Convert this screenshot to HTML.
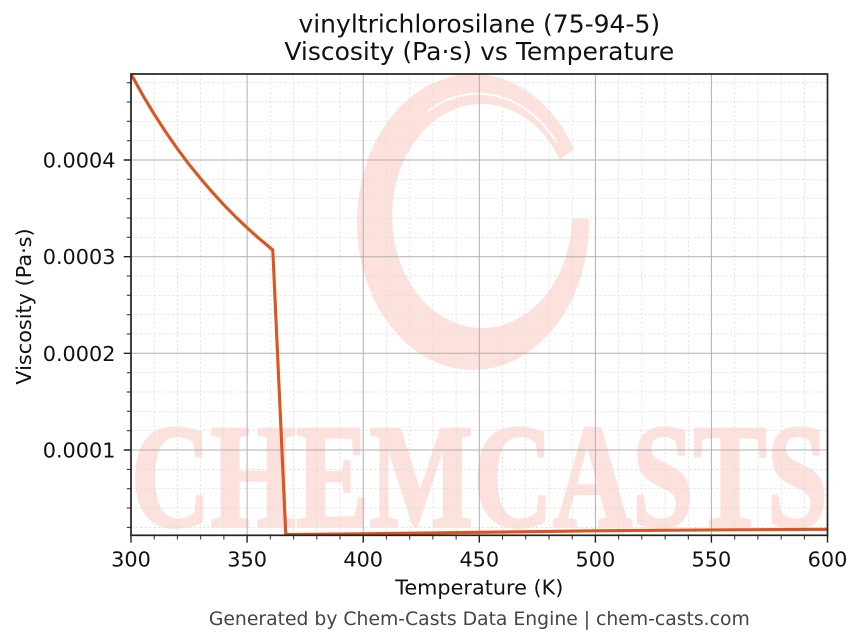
<!DOCTYPE html>
<html>
<head>
<meta charset="utf-8">
<style>
  html, body { margin: 0; padding: 0; background: #ffffff; }
  svg { display: block; }
  text { font-family: "DejaVu Sans", "Liberation Sans", sans-serif; }
</style>
</head>
<body>
<svg width="863" height="644" viewBox="0 0 863 644" xmlns="http://www.w3.org/2000/svg">
  <rect x="0" y="0" width="863" height="644" fill="#ffffff"/>
  <defs>
    <clipPath id="ax">
      <rect x="131" y="74" width="696.5" height="461.3"/>
    </clipPath>
  </defs>

  <g clip-path="url(#ax)">
    <path d="M 357 222 A 116 148 0 1 0 589 222 A 116 148 0 1 0 357 222 Z M 392 216 A 90 112 0 1 1 572 216 A 90 112 0 1 1 392 216 Z" fill="#fde1dc" fill-rule="evenodd"/>
    <polygon points="480,216 666,84 690,222" fill="#ffffff"/>
    <path d="M 428 111 A 100 128 0 0 1 557 143" fill="none" stroke="#ffffff" stroke-width="2"/>
    <text x="131" y="526" font-weight="bold" font-size="148" fill="#fde1dc" stroke="#fde1dc" stroke-width="3" textLength="697" lengthAdjust="spacingAndGlyphs" style="font-family:'Liberation Serif', serif;">CHEMCASTS</text>
  </g>

  <path stroke="#dcdcdc" stroke-width="0.7" stroke-dasharray="2.5,2" fill="none" d="
    M154.2 74V535.3 M177.4 74V535.3 M200.7 74V535.3 M223.9 74V535.3
    M270.3 74V535.3 M293.6 74V535.3 M316.8 74V535.3 M340.0 74V535.3
    M386.4 74V535.3 M409.7 74V535.3 M432.9 74V535.3 M456.1 74V535.3
    M502.5 74V535.3 M525.7 74V535.3 M549.0 74V535.3 M572.2 74V535.3
    M618.6 74V535.3 M641.8 74V535.3 M665.1 74V535.3 M688.3 74V535.3
    M734.7 74V535.3 M757.9 74V535.3 M781.2 74V535.3 M804.4 74V535.3
    M131 527.4H827.5 M131 508.0H827.5 M131 488.7H827.5 M131 469.4H827.5
    M131 430.7H827.5 M131 411.3H827.5 M131 392.0H827.5 M131 372.7H827.5
    M131 334.0H827.5 M131 314.7H827.5 M131 295.3H827.5 M131 276.0H827.5
    M131 237.3H827.5 M131 218.0H827.5 M131 198.7H827.5 M131 179.3H827.5
    M131 140.7H827.5 M131 121.3H827.5 M131 102.0H827.5 M131 82.7H827.5"/>

  <path stroke="#b0b0b0" stroke-width="1" fill="none" d="
    M247.1 74V535.3 M363.2 74V535.3 M479.3 74V535.3 M595.4 74V535.3 M711.4 74V535.3
    M131 450H827.5 M131 353.3H827.5 M131 256.7H827.5 M131 160H827.5"/>

  <g clip-path="url(#ax)">
    <polyline fill="none" stroke="#dc5420" stroke-width="3.1" stroke-linejoin="round"
      points="131,74 142.6,94.9 154.2,114.2 165.8,132.1 177.4,148.8 189.0,164.3 200.7,178.7 212.3,192.2 223.9,204.9 235.5,216.7 247.1,227.8 258.7,238.2 272.8,250 285.8,534.6 363.2,533.8 479.3,532.3 595.4,530.8 711.4,529.9 827.5,529.3"/>
  </g>

  <rect x="131" y="74" width="696.5" height="461.3" fill="none" stroke="#222222" stroke-width="1.7"/>

  <path stroke="#222222" stroke-width="1.4" fill="none" d="
    M131 535.3V542.6 M247.1 535.3V542.6 M363.2 535.3V542.6 M479.3 535.3V542.6
    M595.4 535.3V542.6 M711.4 535.3V542.6 M827.5 535.3V542.6
    M131 450H123.7 M131 353.3H123.7 M131 256.7H123.7 M131 160H123.7"/>

  <path stroke="#222222" stroke-width="1" fill="none" d="
    M154.2 535.3V539.5 M177.4 535.3V539.5 M200.7 535.3V539.5 M223.9 535.3V539.5
    M270.3 535.3V539.5 M293.6 535.3V539.5 M316.8 535.3V539.5 M340.0 535.3V539.5
    M386.4 535.3V539.5 M409.7 535.3V539.5 M432.9 535.3V539.5 M456.1 535.3V539.5
    M502.5 535.3V539.5 M525.7 535.3V539.5 M549.0 535.3V539.5 M572.2 535.3V539.5
    M618.6 535.3V539.5 M641.8 535.3V539.5 M665.1 535.3V539.5 M688.3 535.3V539.5
    M734.7 535.3V539.5 M757.9 535.3V539.5 M781.2 535.3V539.5 M804.4 535.3V539.5
    M131 527.4H126.8 M131 508.0H126.8 M131 488.7H126.8 M131 469.4H126.8
    M131 430.7H126.8 M131 411.3H126.8 M131 392.0H126.8 M131 372.7H126.8
    M131 334.0H126.8 M131 314.7H126.8 M131 295.3H126.8 M131 276.0H126.8
    M131 237.3H126.8 M131 218.0H126.8 M131 198.7H126.8 M131 179.3H126.8
    M131 140.7H126.8 M131 121.3H126.8 M131 102.0H126.8 M131 82.7H126.8"/>

  <g font-size="20.8" fill="#111111" text-anchor="middle">
    <text x="131" y="566.5">300</text>
    <text x="247.1" y="566.5">350</text>
    <text x="363.2" y="566.5">400</text>
    <text x="479.3" y="566.5">450</text>
    <text x="595.4" y="566.5">500</text>
    <text x="711.4" y="566.5">550</text>
    <text x="827.5" y="566.5">600</text>
  </g>

  <g font-size="20.8" fill="#111111" text-anchor="end">
    <text x="115.5" y="457.5">0.0001</text>
    <text x="115.5" y="360.8">0.0002</text>
    <text x="115.5" y="264.2">0.0003</text>
    <text x="115.5" y="167.5">0.0004</text>
  </g>

  <text x="479.3" y="594.5" font-size="20.8" fill="#111111" text-anchor="middle">Temperature (K)</text>
  <text transform="translate(31,306.5) rotate(-90)" font-size="20.8" fill="#111111" text-anchor="middle">Viscosity (Pa·s)</text>

  <text x="479.3" y="32.5" font-size="25" fill="#111111" text-anchor="middle">vinyltrichlorosilane (75-94-5)</text>
  <text x="479.3" y="60" font-size="25" fill="#111111" text-anchor="middle">Viscosity (Pa·s) vs Temperature</text>

  <text x="479.3" y="625" font-size="18.8" fill="#444444" text-anchor="middle">Generated by Chem-Casts Data Engine | chem-casts.com</text>
</svg>
</body>
</html>
